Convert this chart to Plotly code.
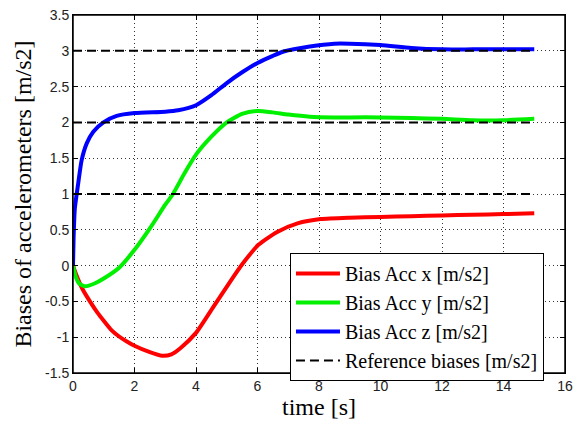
import plotly.graph_objects as go

# ---- data ----
t_x = [0, 0.1, 0.3, 0.55, 0.8, 1.0, 1.25, 1.5, 1.75, 2.0, 2.5, 2.9, 3.2, 3.5, 4.0, 4.56, 5.21, 5.54, 6.03, 6.64, 7.3, 8.05, 9.0, 10.0, 11.0, 12.0, 13.0, 14.0, 15.0]
acc_x = [0, -0.12, -0.32, -0.5, -0.66, -0.77, -0.9, -0.99, -1.06, -1.12, -1.21, -1.26, -1.24, -1.15, -0.94, -0.58, -0.16, 0.04, 0.29, 0.47, 0.59, 0.65, 0.67, 0.68, 0.69, 0.70, 0.71, 0.72, 0.73]

t_y = [0, 0.1, 0.2, 0.4, 0.7, 1.0, 1.5, 2.0, 2.5, 3.0, 3.25, 3.64, 4.0, 4.5, 5.0, 5.5, 6.0, 6.5, 7.0, 7.7, 8.5, 9.0, 10.0, 11.0, 12.0, 13.0, 14.0, 15.0]
acc_y = [0, -0.17, -0.25, -0.29, -0.25, -0.18, -0.03, 0.22, 0.52, 0.85, 1.0, 1.3, 1.55, 1.8, 2.0, 2.12, 2.16, 2.14, 2.11, 2.08, 2.07, 2.07, 2.07, 2.06, 2.05, 2.03, 2.03, 2.05]

t_z = [0, 0.02, 0.06, 0.17, 0.28, 0.45, 0.66, 0.99, 1.42, 2.0, 3.0, 3.42, 4.0, 4.5, 5.0, 5.5, 6.0, 6.5, 6.85, 7.7, 8.5, 9.0, 10.0, 11.0, 12.0, 13.0, 14.0, 15.0]
acc_z = [0, 0.4, 0.8, 1.15, 1.47, 1.71, 1.87, 2.0, 2.09, 2.13, 2.15, 2.17, 2.24, 2.38, 2.55, 2.7, 2.83, 2.93, 2.99, 3.06, 3.1, 3.1, 3.08, 3.04, 3.02, 3.02, 3.02, 3.02]

ref_biases = [1, 2, 3]
ref_t = [0, 15]

x_tick_vals = [0, 2, 4, 6, 8, 10, 12, 14, 16]
x_tick_text = ["0", "2", "4", "6", "8", "10", "12", "14", "16"]
y_tick_vals = [-1.5, -1, -0.5, 0, 0.5, 1, 1.5, 2, 2.5, 3, 3.5]
y_tick_text = ["-1.5", "-1", "-0.5", "0", "0.5", "1", "1.5", "2", "2.5", "3", "3.5"]

names = ["Bias Acc x [m/s2]", "Bias Acc y [m/s2]", "Bias Acc z [m/s2]", "Reference biases [m/s2]"]
colors = ["#ff0000", "#00f000", "#0000ff", "#000000"]

fig = go.Figure()
for tt, vv, nm, col in zip([t_x, t_y, t_z], [acc_x, acc_y, acc_z], names[:3], colors[:3]):
    fig.add_trace(go.Scatter(x=tt, y=vv, mode="lines", name=nm,
                             line=dict(color=col, width=4, shape="spline", smoothing=0.6)))

rx, ry = [], []
for b in ref_biases:
    rx += ref_t + [None]
    ry += [b] * len(ref_t) + [None]
fig.add_trace(go.Scatter(x=rx, y=ry, mode="lines", name=names[3],
                         line=dict(color=colors[3], width=2, dash="9px,5px")))

axis_common = dict(
    showline=True, linecolor="black", linewidth=1, mirror="allticks",
    ticks="inside", ticklen=5, tickcolor="black",
    showgrid=True, gridcolor="#333333", gridwidth=1, griddash="1px,3px",
    zeroline=False, automargin=False, ticklabeloverflow="allow",
    tickfont=dict(family="Liberation Sans, Arial", size=14, color="#222222"),
)

title_font = dict(family="Liberation Serif, Times New Roman", size=24, color="black")
fig.update_xaxes(range=[0, 16], tickvals=x_tick_vals, ticktext=x_tick_text,
                 title=dict(text="time [s]", font=title_font, standoff=4),
                 **axis_common)
fig.update_yaxes(range=[-1.5, 3.5], tickvals=y_tick_vals, ticktext=y_tick_text,
                 title=dict(text="Biases of accelerometers [m/s2]", font=title_font, standoff=6),
                 **axis_common)

# axes frame (box around the plotting area)
fig.add_shape(type="rect", xref="paper", yref="paper", x0=0, y0=0, x1=1, y1=1,
              line=dict(color="black", width=1.5), layer="above")

fig.update_layout(
    width=577, height=425,
    margin=dict(l=73, r=12, t=15, b=52),
    paper_bgcolor="white", plot_bgcolor="white",
    showlegend=True,
    legend=dict(x=0.441, y=0.335, xanchor="left", yanchor="top",
                bgcolor="white", bordercolor="black", borderwidth=1,
                itemwidth=44,
                font=dict(family="Liberation Serif, Times New Roman", size=20, color="black"),
                tracegroupgap=0),
)

# remove the browser's default 8px body margin so the figure sits at the page origin
fig.write_html("out.html", config={"displayModeBar": False},
               post_script="document.body.style.margin='0';document.body.style.overflow='hidden';")
